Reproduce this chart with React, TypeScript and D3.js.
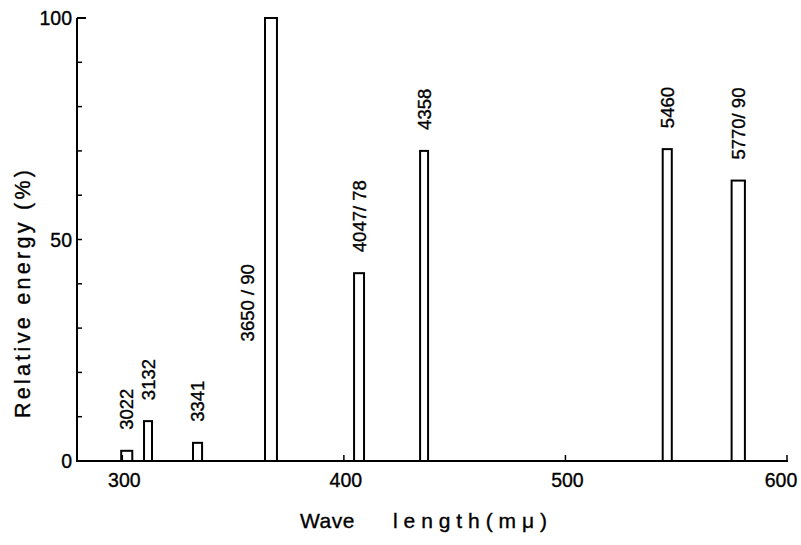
import React from "react";
import * as d3 from "d3";

// Mercury lamp emission lines (labels in Å), band edges in mμ, relative energy in %
const lineLabels = ["3022", "3132", "3341", "3650 / 90", "4047/ 78", "4358", "5460", "5770/ 90"];
const bandStart = [299.5, 309.8, 331.9, 364.4, 404.6, 434.4, 543.9, 575.0];
const bandEnd = [304.5, 313.4, 336.0, 369.8, 409.1, 438.0, 548.0, 581.0];
const relEnergy = [2.3, 9.0, 4.1, 100, 42.4, 70.0, 70.4, 63.3];

const xTickValues = [300, 400, 500, 600];
const yLabelValues = [0, 50, 100];
const yMinorValues = [10, 20, 30, 40, 50, 60, 70, 80, 90];

const xTitle1 = "Wave ";
const xTitle2 = "length(mμ)";
const yTitle = "Relative energy (%)";

const W = 801;
const H = 545;
const FONT = "'Liberation Sans', Arial, sans-serif";
const TXT = { fill: "#000", stroke: "#000", strokeWidth: 0.35 };

export default function App() {
  const x = d3.scaleLinear().domain([280, 600]).range([78, 787]);
  const y = d3.scaleLinear().domain([0, 100]).range([461, 18]);
  const x0 = 77;
  const y0 = y(0);

  return (
    <svg
      width={W}
      height={H}
      viewBox={`0 0 ${W} ${H}`}
      style={{ position: "absolute", left: 0, top: 0, background: "#fff" }}
      fontFamily={FONT}
    >
      <rect x={0} y={0} width={W} height={H} fill="#fff" />

      {/* bars */}
      {relEnergy.map((v, i) => (
        <rect
          key={"b" + i}
          x={x(bandStart[i])}
          y={y(v)}
          width={x(bandEnd[i]) - x(bandStart[i])}
          height={y0 - y(v)}
          fill="#fff"
          stroke="#000"
          strokeWidth={2}
        />
      ))}

      {/* bar labels */}
      {lineLabels.map((t, i) => {
        const isSide = i === 3;
        const cx = isSide ? x(bandStart[i]) - 17 : (x(bandStart[i]) + x(bandEnd[i])) / 2;
        const yb = isSide ? y(27) : y(relEnergy[i]) - 21;
        return (
          <text
            key={"l" + i}
            transform={`translate(${cx},${yb}) rotate(-90)`}
            textAnchor="start"
            dominantBaseline="central"
            fontSize={18.5}
            {...TXT}
            style={{ whiteSpace: "pre" }}
          >
            {t}
          </text>
        );
      })}

      {/* axes */}
      <line x1={x0} y1={y(100)} x2={x0} y2={y0} stroke="#000" strokeWidth={2} />
      <line x1={x0 - 1} y1={y0} x2={x(600) + 1} y2={y0} stroke="#000" strokeWidth={2} />
      <line x1={x0} y1={y(100)} x2={x0 + 9} y2={y(100)} stroke="#000" strokeWidth={2} />
      {yMinorValues.map((v) => (
        <line key={"ym" + v} x1={x0} y1={y(v)} x2={x0 + 5} y2={y(v)} stroke="#000" strokeWidth={1.5} />
      ))}
      {xTickValues.map((v) => (
        <line key={"xt" + v} x1={x(v)} y1={y0} x2={x(v)} y2={y0 - 6} stroke="#000" strokeWidth={1.5} />
      ))}

      {/* tick labels */}
      {yLabelValues.map((v) => (
        <text key={"yl" + v} x={72} y={y(v)} textAnchor="end" dominantBaseline="central" fontSize={19.5} {...TXT}>
          {v}
        </text>
      ))}
      {xTickValues.map((v, i) => (
        <text
          key={"xl" + v}
          x={x(v) + (i === xTickValues.length - 1 ? -6 : 2)}
          y={487}
          textAnchor="middle"
          fontSize={19.5}
          {...TXT}
        >
          {v}
        </text>
      ))}

      {/* axis titles */}
      <text
        transform={`translate(30, 418) rotate(-90)`}
        textAnchor="start"
        fontSize={21.5}
        textLength={248}
        lengthAdjust="spacing"
        {...TXT}
      >
        {yTitle}
      </text>
      <text y={528} fontSize={21} {...TXT}>
        <tspan x={300} letterSpacing={0.5}>{xTitle1}</tspan>
        <tspan x={393} textLength={154} lengthAdjust="spacing">{xTitle2}</tspan>
      </text>
    </svg>
  );
}
